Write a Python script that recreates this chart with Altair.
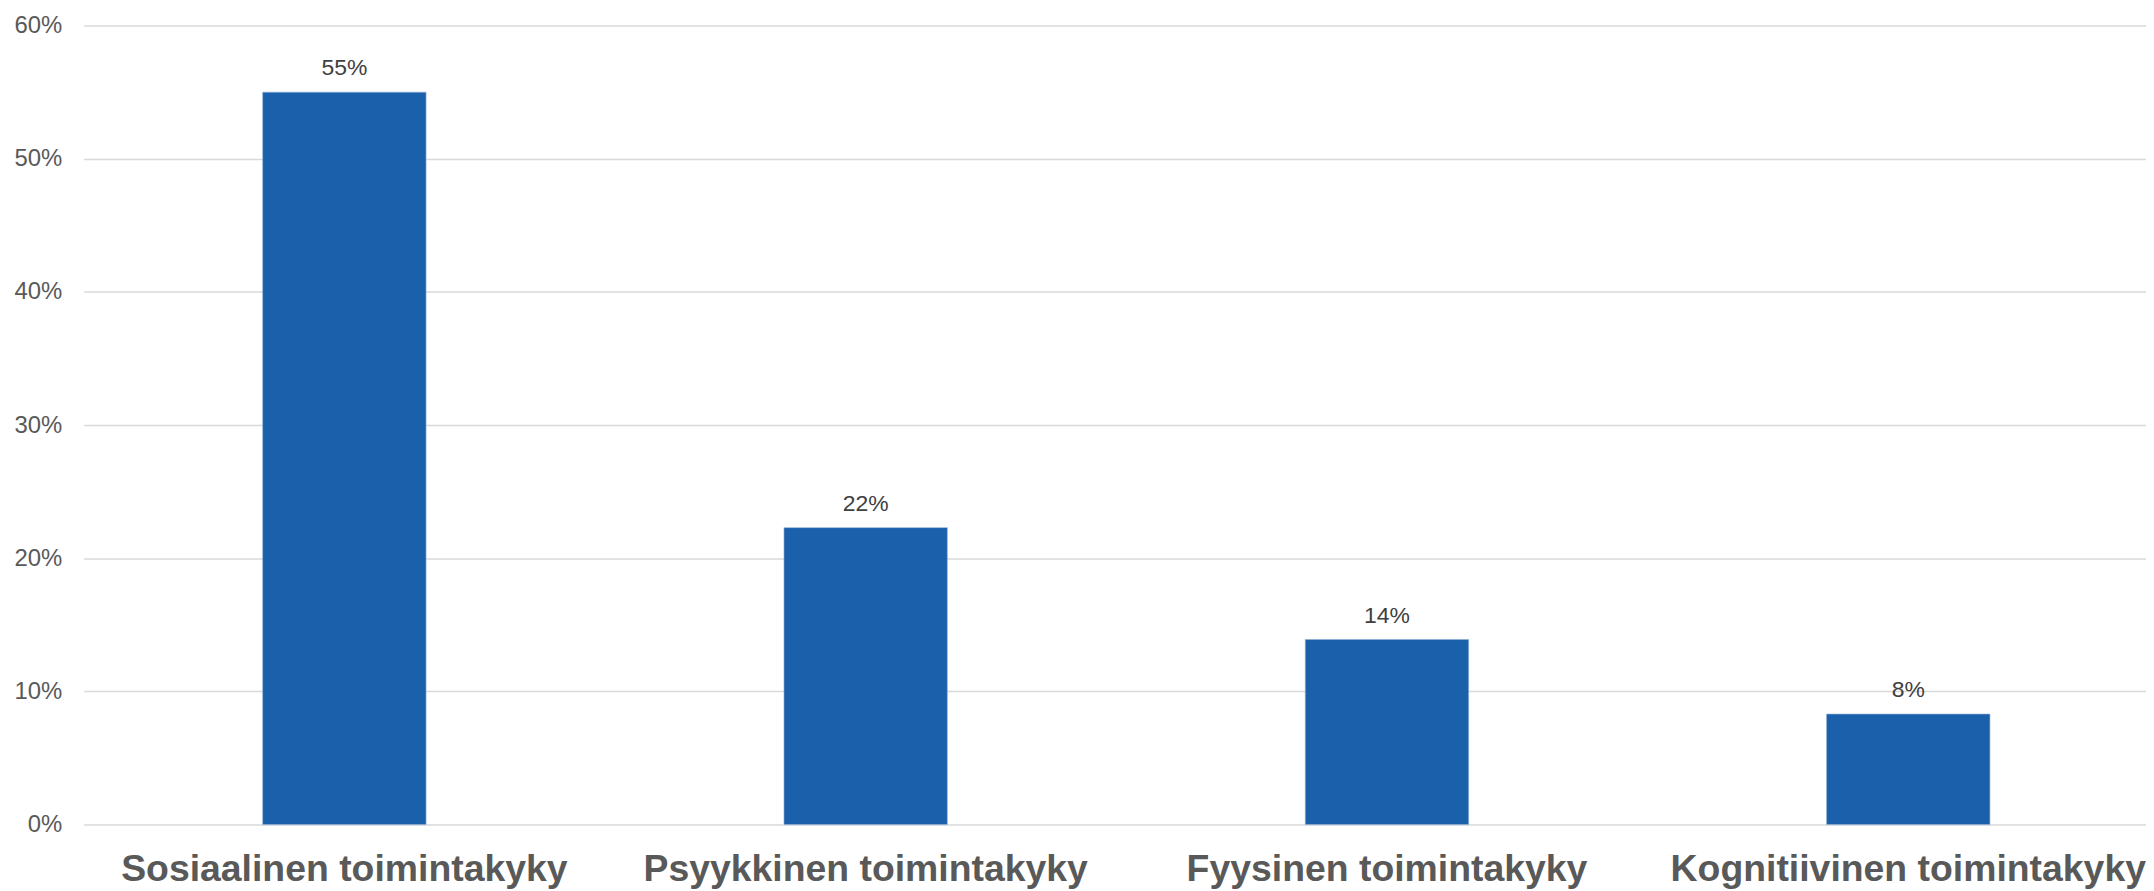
import altair as alt
import pandas as pd

categories = ["Sosiaalinen toimintakyky", "Psyykkinen toimintakyky",
              "Fyysinen toimintakyky", "Kognitiivinen toimintakyky"]
values = [0.550, 0.223, 0.139, 0.083]
y_ticks = [0.0, 0.1, 0.2, 0.3, 0.4, 0.5, 0.6]

df = pd.DataFrame({"cat": categories, "val": values})

FONT = "Liberation Sans"

x_enc = alt.X(
    "cat:N", sort=categories, title=None,
    scale=alt.Scale(range=[0, 2093], paddingInner=0.6866, paddingOuter=0.3433),
    axis=alt.Axis(labelAngle=0, ticks=False, domain=False, labelPadding=26,
                  labelFontSize=37.5, labelFontWeight="bold", labelColor="#595959",
                  labelFont=FONT, labelOverlap=False, labelLimit=0),
)
y_enc = alt.Y(
    "val:Q", title=None,
    scale=alt.Scale(domain=[0, 0.6], nice=False, zero=True),
    axis=alt.Axis(values=y_ticks, format=".0%", ticks=False, domain=False,
                  labelPadding=22, labelFontSize=24, labelColor="#595959",
                  labelFont=FONT, gridColor="#d9d9d9", gridWidth=1.5),
)

bars = alt.Chart(df).mark_bar(color="#1b60ab", stroke="#8fb0d6", strokeWidth=0.6).encode(
    x=x_enc, y=y_enc
)
labels = alt.Chart(df).mark_text(
    baseline="alphabetic", dy=-17, fontSize=23, color="#404040", font=FONT
).encode(
    x=alt.X("cat:N", sort=categories),
    y=alt.Y("val:Q"),
    text=alt.Text("val:Q", format=".0%"),
)

chart = (bars + labels).properties(
    width=2070, height=802,
    background="white",
    padding={"left": 76, "top": 16, "right": 0, "bottom": 65},
    autosize=alt.AutoSizeParams(type="none"),
).configure_view(strokeWidth=0, stroke="transparent").configure_axis(
    domain=False, ticks=False
)

chart.save("out.html", embed_options={"renderer": "svg", "actions": False})
